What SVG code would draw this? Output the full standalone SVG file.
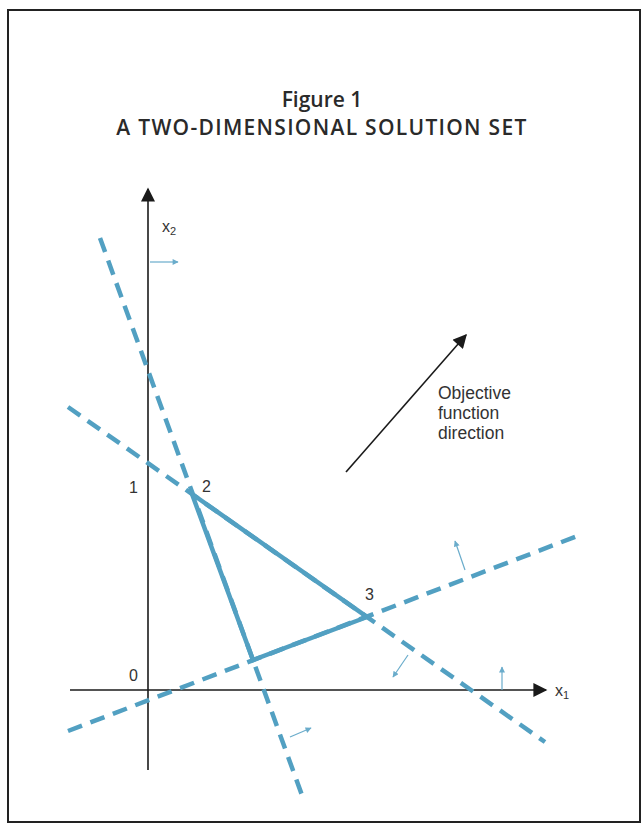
<svg xmlns="http://www.w3.org/2000/svg" width="642" height="826" viewBox="0 0 642 826">
<style>
.title{font-family:"Open Sans","Liberation Sans",sans-serif;font-weight:600;fill:#2a2a2a;text-anchor:middle}
.lbl{font-family:"Liberation Sans",Arial,sans-serif;font-size:16px;fill:#333}
.obj{font-family:"Liberation Sans",Arial,sans-serif;font-size:17.5px;fill:#333}
.axis{stroke:#1a1a1a;stroke-width:1.6;fill:none}
.dash{stroke:#52a0c2;stroke-width:4.5;stroke-dasharray:15 9;fill:none}
.solid{stroke:#52a0c2;stroke-width:4.5;fill:none;stroke-linejoin:miter}
.norm{stroke:#6aaccb;stroke-width:1.2;fill:none}
</style>
<defs>
<marker id="ahBig" viewBox="0 0 10 10" refX="9" refY="5" markerWidth="18" markerHeight="14" markerUnits="userSpaceOnUse" orient="auto">
<path d="M0,0 L10,5 L0,10 Z" fill="#1a1a1a"/>
</marker>
<marker id="ahs" viewBox="0 0 10 10" refX="9" refY="5" markerWidth="7" markerHeight="6" markerUnits="userSpaceOnUse" orient="auto">
<path d="M0,0 L10,5 L0,10 Z" fill="#6aaccb"/>
</marker>
</defs>
<rect x="0" y="0" width="642" height="826" fill="#ffffff"/>
<rect x="8" y="10" width="632" height="812" fill="none" stroke="#222" stroke-width="2"/>
<g id="title">
<text class="title" x="322" y="107" font-size="21">Figure 1</text>
<text class="title" x="322" y="135" font-size="21" letter-spacing="1.3">A TWO-DIMENSIONAL SOLUTION SET</text>
</g>
<g id="connectors">
<line class="axis" x1="148" y1="770" x2="148" y2="189" marker-end="url(#ahBig)"/>
<line class="axis" x1="70" y1="690" x2="546" y2="690" marker-end="url(#ahBig)"/>
<line class="dash" x1="100" y1="238" x2="303" y2="798"/>
<line class="dash" x1="68" y1="407" x2="545" y2="742"/>
<line class="dash" x1="68" y1="731" x2="580" y2="535"/>
<polygon class="solid" points="192,494 367,617 253,660"/>
<line class="norm" x1="150" y1="262" x2="178" y2="262" marker-end="url(#ahs)"/>
<line class="norm" x1="465" y1="570" x2="455" y2="541" marker-end="url(#ahs)"/>
<line class="norm" x1="408" y1="655" x2="393" y2="677" marker-end="url(#ahs)"/>
<line class="norm" x1="502" y1="690" x2="502" y2="667" marker-end="url(#ahs)"/>
<line class="norm" x1="290" y1="737" x2="311" y2="728" marker-end="url(#ahs)"/>
<line stroke="#1a1a1a" stroke-width="1.6" x1="346" y1="472" x2="466" y2="335" marker-end="url(#ahBig)"/>
</g>
<g id="labels">
<text class="lbl" x="162" y="232">x<tspan font-size="11" dy="3">2</tspan></text>
<text class="lbl" x="555" y="696">x<tspan font-size="11" dy="3">1</tspan></text>
<text class="lbl" x="129" y="681">0</text>
<text class="lbl" x="129" y="493">1</text>
<text class="lbl" x="202" y="492">2</text>
<text class="lbl" x="365" y="600">3</text>
<text class="obj" x="438" y="399">Objective</text>
<text class="obj" x="438" y="419">function</text>
<text class="obj" x="438" y="439">direction</text>
</g>
</svg>
